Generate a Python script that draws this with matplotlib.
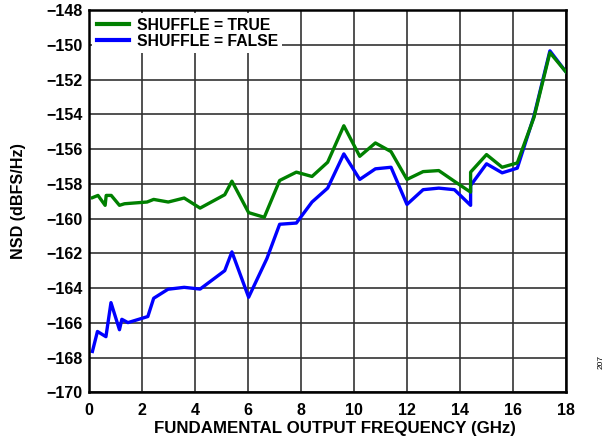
import matplotlib.pyplot as plt
import numpy as np

plt.rcParams['font.family'] = ['Liberation Sans', 'DejaVu Sans']
plt.rcParams['font.weight'] = 'bold'

# SHUFFLE = TRUE
freq_true = [0.14, 0.35, 0.62, 0.66, 0.85, 1.16, 1.35, 2.2, 2.45, 3.0, 3.6, 4.2,
             5.13, 5.4, 6.03, 6.62, 7.2, 7.83, 8.42, 9.01, 9.62, 10.22, 10.81,
             11.4, 12.0, 12.61, 13.2, 13.83, 14.4, 14.4, 15.0, 15.59, 16.16,
             16.79, 17.39, 18.0]
nsd_true = [-158.8, -158.67, -159.24, -158.67, -158.67, -159.24, -159.15, -159.05,
            -158.9, -159.05, -158.82, -159.4, -158.63, -157.85, -159.66, -159.93,
            -157.81, -157.33, -157.58, -156.76, -154.66, -156.42, -155.65,
            -156.15, -157.75, -157.3, -157.24, -157.9, -158.48, -157.33, -156.32,
            -157.05, -156.8, -154.18, -150.45, -151.57]

# SHUFFLE = FALSE
freq_false = [0.14, 0.33, 0.65, 0.84, 1.16, 1.25, 1.48, 2.23, 2.45, 2.99, 3.6, 4.2,
              5.13, 5.4, 6.03, 6.72, 7.2, 7.83, 8.42, 9.01, 9.62, 10.22, 10.81,
              11.4, 12.0, 12.61, 13.2, 13.79, 14.4, 14.4, 15.0, 15.59, 16.16,
              16.79, 17.39, 18.0]
nsd_false = [-167.65, -166.5, -166.8, -164.84, -166.4, -165.8, -165.99, -165.64,
             -164.59, -164.07, -163.96, -164.06, -163.0, -161.92, -164.53, -162.3,
             -160.33, -160.26, -159.05, -158.25, -156.28, -157.75, -157.14,
             -157.05, -159.19, -158.34, -158.25, -158.34, -159.24, -158.1, -156.85,
             -157.37, -157.1, -154.1, -150.35, -151.57]

fig = plt.figure(figsize=(6.1, 4.47), dpi=100)
ax = fig.add_axes([0.1454, 0.1224, 0.7826, 0.8552])

ax.plot(freq_true, nsd_true, color='#008000', lw=2.4, label='SHUFFLE = TRUE', zorder=3)
ax.plot(freq_false, nsd_false, color='#0000ff', lw=2.4, label='SHUFFLE = FALSE', zorder=2)

ax.set_xlim(0, 18)
ax.set_ylim(-170, -148)
ax.set_xticks(np.arange(0, 19, 2))
ax.set_yticks(np.arange(-170, -147, 2))
ax.grid(True, color='#333333', lw=1.2)
ax.tick_params(length=0, labelsize=11.5)
ax.tick_params(axis='x', pad=8)
ax.tick_params(axis='y', pad=4.5)
for s in ax.spines.values():
    s.set_linewidth(1.8)
    s.set_color('black')

ax.set_xlabel('FUNDAMENTAL OUTPUT FREQUENCY (GHz)', fontsize=12.2, fontweight='bold')
ax.xaxis.set_label_coords(0.516, -0.076)
ax.set_ylabel('NSD (dBFS/Hz)', fontsize=11.6, fontweight='bold')
ax.yaxis.set_label_coords(-0.132, 0.5)

leg = ax.legend(loc='upper left', frameon=True, fontsize=11.3, handlelength=2.1,
                borderaxespad=0.2, borderpad=0.3, labelspacing=0.05, handletextpad=0.45)
leg.get_frame().set_edgecolor('none')
leg.get_frame().set_facecolor('white')
leg.get_frame().set_alpha(1)
for line in leg.get_lines():
    line.set_linewidth(3)

fig.text(0.985, 0.19, '207', rotation=90, fontsize=6, fontweight='normal', ha='center', va='center')

fig.savefig('out.png', dpi=100)
